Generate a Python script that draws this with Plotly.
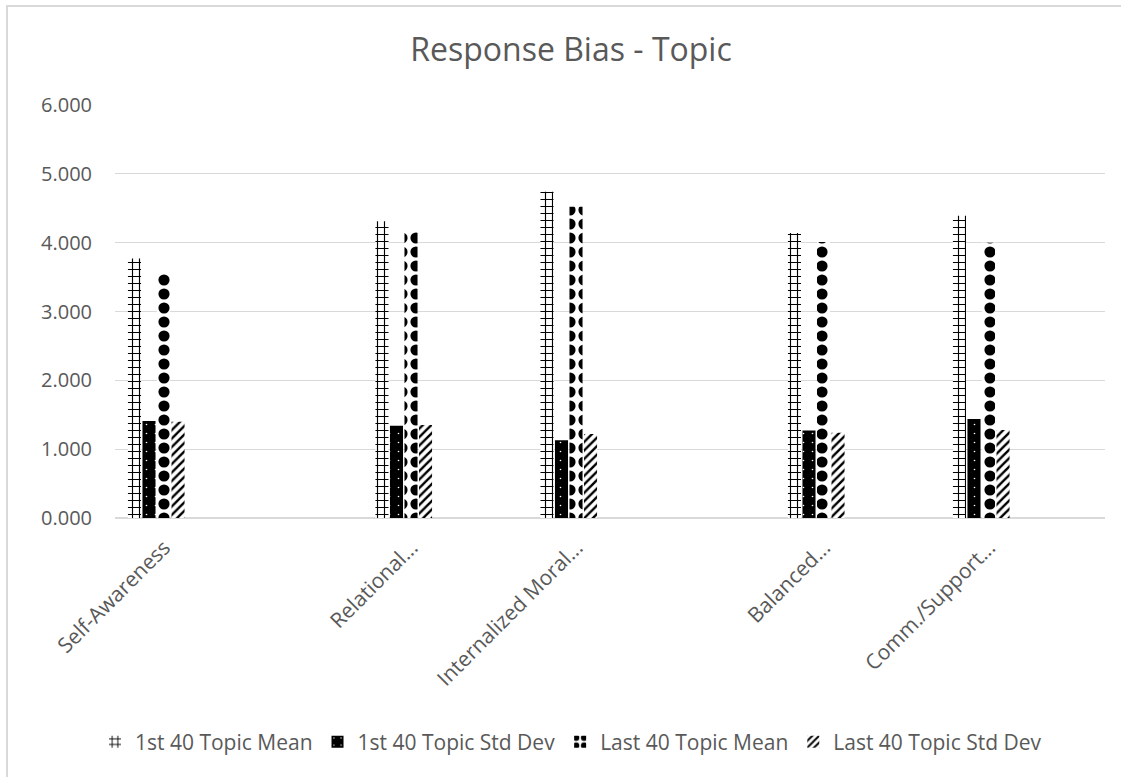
import plotly.graph_objects as go

# Topic labels (long names truncated as shown on the axis)
topics = ["Self-Awareness", "Relational...", "Internalized Moral...", "Balanced...", "Comm./Support..."]
# Slot index of each topic along a 12-slot category band
topic_slots = [0, 3, 5, 8, 10]
n_slots = 12

series_names = ["1st 40 Topic Mean", "1st 40 Topic Std Dev", "Last 40 Topic Mean", "Last 40 Topic Std Dev"]
first40_mean = [3.77, 4.31, 4.74, 4.14, 4.39]
first40_std = [1.41, 1.34, 1.13, 1.27, 1.44]
last40_mean = [3.56, 4.16, 4.52, 4.01, 4.00]
last40_std = [1.40, 1.35, 1.22, 1.24, 1.28]

y_ticks = [0, 1, 2, 3, 4, 5, 6]

values = [first40_mean, first40_std, last40_mean, last40_std]
patterns = [
    dict(shape="+", size=7, solidity=0.3, fgcolor="black", bgcolor="white", fgopacity=1),
    dict(shape=".", size=9, solidity=0.025, fgcolor="white", bgcolor="black", fgopacity=1),
    dict(shape=".", size=14, solidity=0.5, fgcolor="black", bgcolor="white", fgopacity=1),
    dict(shape="/", size=6, solidity=0.4, fgcolor="black", bgcolor="white", fgopacity=1),
]

W, H = 1121, 777
ML, MR, MT, MB = 115, 16, 105, 259
pw, ph = W - ML - MR, H - MT - MB

def px_x(px):
    return (px - ML) / pw

def px_y(py):
    return (H - MB - py) / ph

FONT = "Open Sans"
GREY = "#595959"

fig = go.Figure()
for name, vals, pat in zip(series_names, values, patterns):
    fig.add_trace(go.Bar(
        x=topic_slots, y=vals, name=name,
        marker=dict(color="black", pattern=pat, line=dict(width=0)),
    ))

fig.update_layout(
    width=W, height=H,
    margin=dict(l=ML, r=MR, t=MT, b=MB),
    paper_bgcolor="white", plot_bgcolor="white",
    # bar spacing is relative to the closest pair of slots (2 slots apart)
    barmode="group", bargap=0.648, bargroupgap=0.1,
    font=dict(family=FONT, color=GREY),
    title=dict(text="Response Bias - Topic", font=dict(size=32, color=GREY, family=FONT),
               x=px_x(571), xref="paper", xanchor="center",
               y=1 - 50 / H, yref="container", yanchor="middle"),
    xaxis=dict(range=[-0.5, n_slots - 0.5], tickmode="array", tickvals=topic_slots,
               ticktext=topics, tickangle=-45, showgrid=False, zeroline=False,
               showline=True, linecolor="#d9d9d9", linewidth=1,
               tickfont=dict(size=21, color=GREY, family=FONT), ticks="",
               ticklabelstandoff=8, ticklabelshift=8),
    yaxis=dict(range=[0, 6], tickvals=y_ticks, tickformat=".3f",
               showgrid=True, gridcolor="#d9d9d9", gridwidth=1,
               zeroline=True, zerolinecolor="#d9d9d9", showline=False,
               tickfont=dict(size=20, color=GREY, family=FONT), ticks="",
               ticklabelstandoff=22),
    legend=dict(orientation="h", x=px_x(571), xanchor="center",
                y=px_y(742), yanchor="middle",
                font=dict(size=21, color=GREY, family=FONT),
                bgcolor="rgba(0,0,0,0)"),
    showlegend=True,
)

# Light outer frame of the chart area
fig.add_shape(type="rect", xref="paper", yref="paper",
              x0=px_x(7), x1=px_x(W + 20), y0=px_y(H + 20), y1=px_y(6),
              line=dict(color="#d9d9d9", width=2), fillcolor="rgba(0,0,0,0)", layer="below")

fig.write_html("out.html")
